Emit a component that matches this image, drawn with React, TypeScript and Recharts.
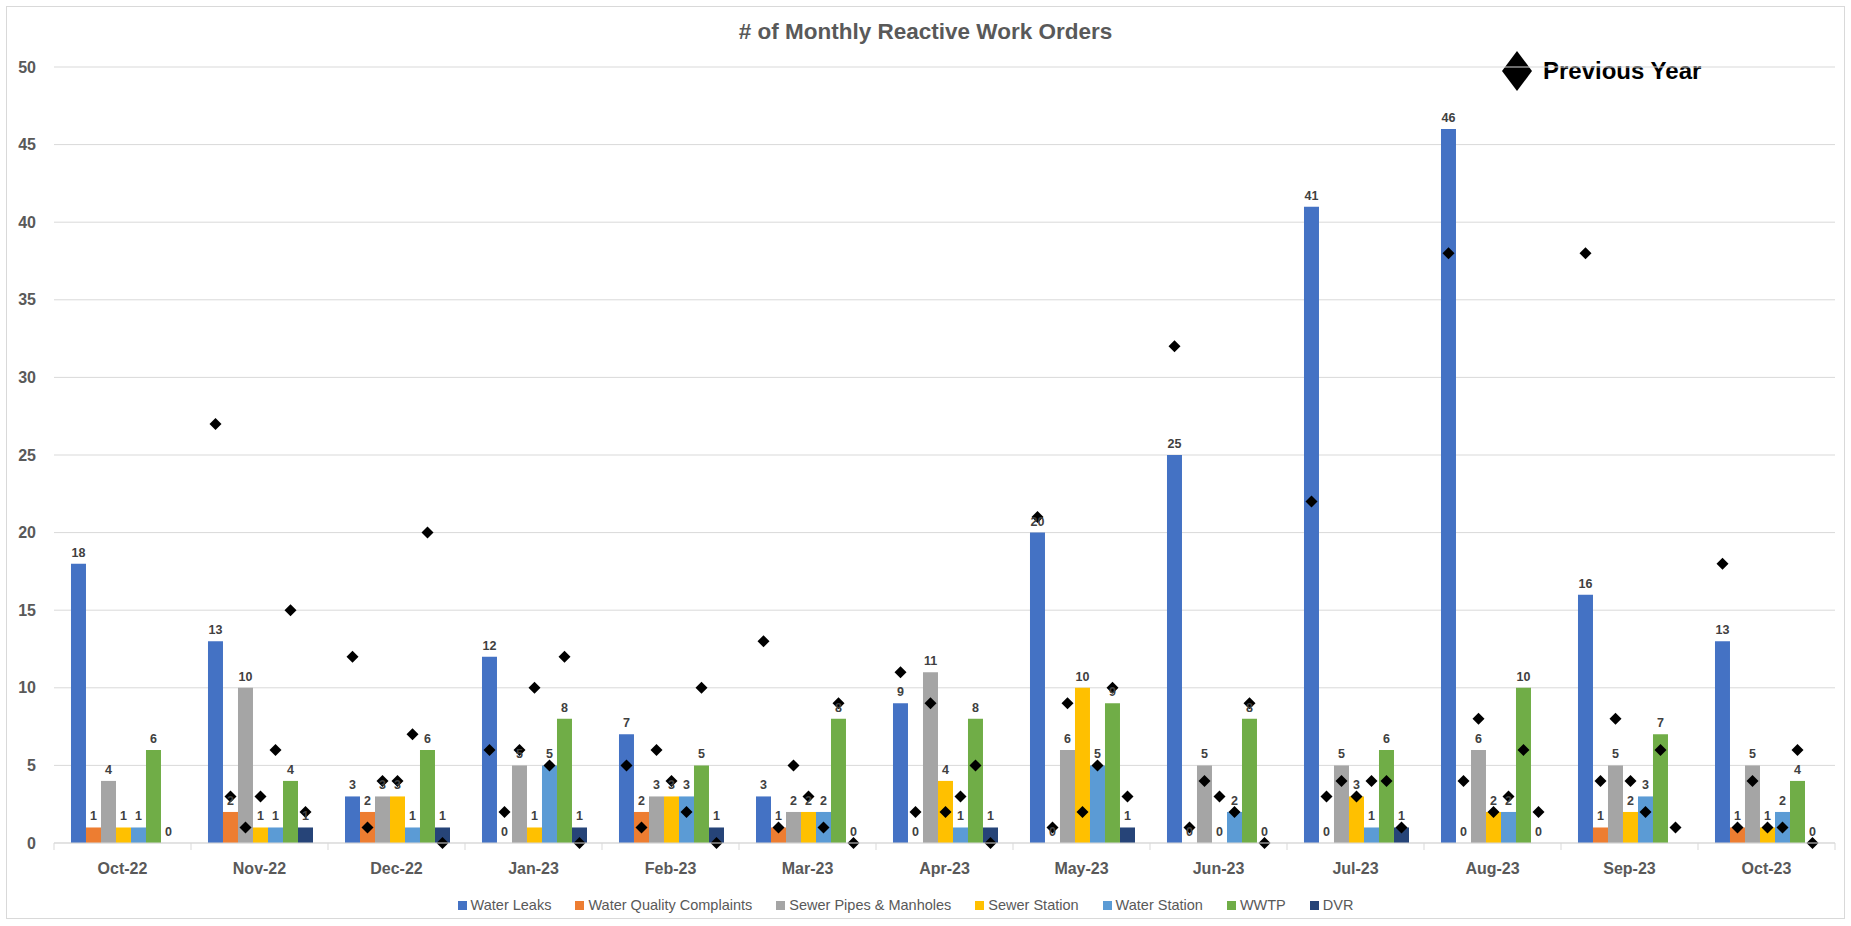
import React from "react";
import { BarChart, Bar, XAxis, YAxis, CartesianGrid, Legend, LabelList } from "recharts";

/* ── data ─────────────────────────────────────────────────────────────── */

const months = [
  "Oct-22", "Nov-22", "Dec-22", "Jan-23", "Feb-23", "Mar-23", "Apr-23",
  "May-23", "Jun-23", "Jul-23", "Aug-23", "Sep-23", "Oct-23",
];

// current year
const waterLeaks = [18, 13, 3, 12, 7, 3, 9, 20, 25, 41, 46, 16, 13];
const waterQuality = [1, 2, 2, 0, 2, 1, 0, 0, 0, 0, 0, 1, 1];
const sewerPipes = [4, 10, 3, 5, 3, 2, 11, 6, 5, 5, 6, 5, 5];
const sewerStation = [1, 1, 3, 1, 3, 2, 4, 10, 0, 3, 2, 2, 1];
const waterStation = [1, 1, 1, 5, 3, 2, 1, 5, 2, 1, 2, 3, 2];
const wwtp = [6, 4, 6, 8, 5, 8, 8, 9, 8, 6, 10, 7, 4];
const dvr = [0, 1, 1, 1, 1, 0, 1, 1, 0, 1, 0, null, 0];

// previous year (diamonds)
const prevWaterLeaks = [null, 27, 12, 6, 5, 13, 11, 21, 32, 22, 38, 38, 18];
const prevWaterQuality = [null, 3, 1, 2, 1, 1, 2, 1, 1, 3, 4, 4, 1];
const prevSewerPipes = [null, 1, 4, 6, 6, 5, 9, 9, 4, 4, 8, 8, 4];
const prevSewerStation = [null, 3, 4, 10, 4, 3, 2, 2, 3, 3, 2, 4, 1];
const prevWaterStation = [null, 6, 7, 5, 2, 1, 3, 5, 2, 4, 3, 2, 1];
const prevWwtp = [null, 15, 20, 12, 10, 9, 5, 10, 9, 4, 6, 6, 6];
const prevDvr = [null, 2, 0, 0, 0, 0, 0, 3, 0, 1, 2, 1, 0];

const yTicks = [0, 5, 10, 15, 20, 25, 30, 35, 40, 45, 50];

const SERIES = [
  { key: "leaks", name: "Water Leaks", color: "#4472C4", cur: waterLeaks, prev: prevWaterLeaks },
  { key: "quality", name: "Water Quality Complaints", color: "#ED7D31", cur: waterQuality, prev: prevWaterQuality },
  { key: "pipes", name: "Sewer Pipes & Manholes", color: "#A5A5A5", cur: sewerPipes, prev: prevSewerPipes },
  { key: "sewer", name: "Sewer Station", color: "#FFC000", cur: sewerStation, prev: prevSewerStation },
  { key: "station", name: "Water Station", color: "#5B9BD5", cur: waterStation, prev: prevWaterStation },
  { key: "wwtp", name: "WWTP", color: "#70AD47", cur: wwtp, prev: prevWwtp },
  { key: "dvr", name: "DVR", color: "#264478", cur: dvr, prev: prevDvr },
];

const data = months.map((month, i) => {
  const row: Record<string, any> = { month };
  SERIES.forEach((s) => {
    row[s.key] = s.cur[i];
    row[`${s.key}Prev`] = s.prev[i];
  });
  return row;
});

/* ── helpers ──────────────────────────────────────────────────────────── */

const FONT = '"Liberation Sans", Arial, sans-serif';
const AXIS_GREY = "#595959";
const GRID = "#d9d9d9";

function makeDiamond(key: string) {
  return (props: any) => {
    const { x, y, width, payload } = props;
    if (!payload || payload[key] == null || x == null || y == null) return <g />;
    const cx = x + width / 2;
    const s = 6;
    return <path d={`M${cx},${y - s}L${cx + s},${y}L${cx},${y + s}L${cx - s},${y}Z`} fill="#000" />;
  };
}

function MonthTick(props: any) {
  const { x, y, payload, index } = props;
  const half = payload?.offset ?? 0;
  return (
    <g>
      <line x1={x - half} x2={x - half} y1={y} y2={y + 7} stroke={GRID} />
      {index === months.length - 1 && <line x1={x + half} x2={x + half} y1={y} y2={y + 7} stroke={GRID} />}
      <text x={x} y={y + 25} textAnchor="middle" dominantBaseline="central" fill={AXIS_GREY} fontSize={16} fontWeight="bold">
        {payload.value}
      </text>
    </g>
  );
}

const legendOrder = (item: any) => SERIES.findIndex((s) => s.name === item.value);

/* ── chart ────────────────────────────────────────────────────────────── */

export default function App() {
  return (
    <div style={{ position: "relative", width: 1851, height: 926, fontFamily: FONT, background: "#fff" }}>
      <style>{`body{margin:0}`}</style>
      <div
        style={{
          position: "absolute", left: 6, top: 6, width: 1839, height: 913,
          border: `1px solid ${GRID}`, boxSizing: "border-box",
        }}
      />
      <div
        style={{
          position: "absolute", left: 0, top: 19, width: 1851, textAlign: "center",
          fontSize: 22.5, fontWeight: "bold", color: AXIS_GREY,
        }}
      >
        # of Monthly Reactive Work Orders
      </div>
      <div style={{ position: "absolute", left: 1501, top: 50, display: "flex", alignItems: "center" }}>
        <svg width={32} height={42}>
          <path d="M16,1L31,21L16,41L1,21Z" fill="#000" />
        </svg>
        <span style={{ marginLeft: 10, fontSize: 24, fontWeight: "bold", color: "#000" }}>Previous Year</span>
      </div>
      <div style={{ position: "absolute", left: 0, top: 0 }}>
        <BarChart
          width={1851}
          height={926}
          data={data}
          margin={{ top: 67, right: 16, left: 0, bottom: 25 }}
          barCategoryGap="12.4%"
          barGap={0}
        >
          <CartesianGrid vertical={false} stroke={GRID} />
          <XAxis
            dataKey="month"
            height={40}
            axisLine={{ stroke: GRID }}
            tickLine={false}
            tickSize={0}
            tickMargin={0}
            interval={0}
            tick={<MonthTick />}
          />
          <XAxis xAxisId="prev" dataKey="month" hide />
          <YAxis
            domain={[0, 50]}
            ticks={yTicks}
            width={54}
            axisLine={false}
            tickLine={false}
            tickSize={0}
            tickMargin={18}
            tick={{ fill: AXIS_GREY, fontSize: 16, fontWeight: "bold" }}
          />
          <Legend
            verticalAlign="bottom"
            iconType="square"
            iconSize={9}
            itemSorter={legendOrder}
            wrapperStyle={{ bottom: 12 }}
            formatter={(value: any) => (
              <span style={{ color: AXIS_GREY, fontSize: 14.5, paddingRight: 14 }}>{value}</span>
            )}
          />
          {SERIES.map((s) => (
            <Bar
              key={s.key}
              dataKey={s.key}
              name={s.name}
              fill={s.color}
              minPointSize={0.01}
              isAnimationActive={false}
            >
              <LabelList
                dataKey={s.key}
                position="top"
                offset={7}
                fill="#404040"
                fontSize={12.5}
                fontWeight="bold"
              />
            </Bar>
          ))}
          {SERIES.map((s) => (
            <Bar
              key={`${s.key}Prev`}
              xAxisId="prev"
              dataKey={`${s.key}Prev`}
              name={`${s.name} (Previous Year)`}
              legendType="none"
              fill="#000"
              shape={makeDiamond(`${s.key}Prev`)}
              isAnimationActive={false}
            />
          ))}
        </BarChart>
      </div>
    </div>
  );
}
